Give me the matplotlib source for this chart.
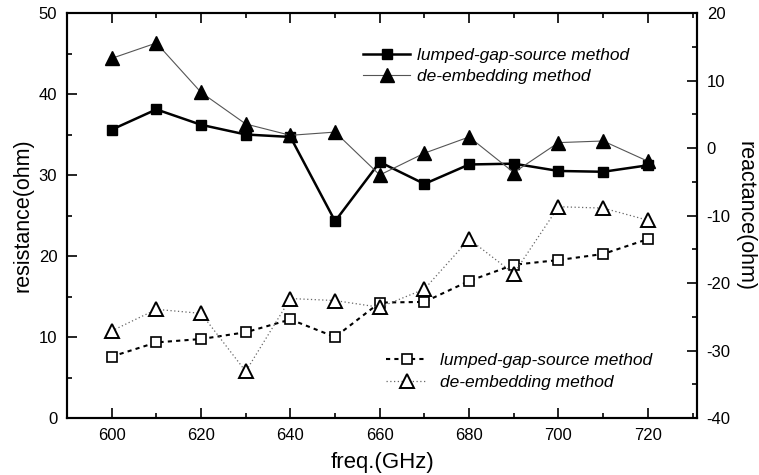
"""Resistance / reactance vs frequency, two extraction methods."""
import matplotlib
matplotlib.use('Agg')
import matplotlib.pyplot as plt
from matplotlib.ticker import MultipleLocator

plt.rcParams['font.family'] = ['Liberation Sans', 'DejaVu Sans']
plt.rcParams['axes.unicode_minus'] = False

# data
freq = [600, 610, 620, 630, 640, 650, 660, 670, 680, 690, 700, 710, 720]
res_lumped = [35.6, 38.1, 36.2, 35.0, 34.7, 24.3, 31.6, 28.9, 31.3, 31.4, 30.5, 30.4, 31.2]
res_deemb = [44.4, 46.3, 40.2, 36.3, 34.9, 35.3, 30.0, 32.7, 34.7, 30.3, 34.0, 34.2, 31.7]
react_lumped = [-30.9, -28.8, -28.3, -27.3, -25.4, -28.0, -22.9, -22.8, -19.7, -17.3, -16.6, -15.7, -13.5]
react_deemb = [-27.1, -23.9, -24.5, -33.1, -22.3, -22.6, -23.6, -20.9, -13.5, -18.6, -8.7, -8.9, -10.7]

LABEL_LUMPED = 'lumped-gap-source method'
LABEL_DEEMB = 'de-embedding method'

fig = plt.figure(figsize=(7.59, 4.75), dpi=100)
ax = fig.add_axes([0.0883, 0.12, 0.83, 0.8526])
ax2 = ax.twinx()

# resistance (left axis, filled markers)
ax.plot(freq, res_lumped, '-', color='black', lw=1.8, marker='s', ms=6.5,
        mfc='black', mec='black', label=LABEL_LUMPED)
ax.plot(freq, res_deemb, '-', color='#555555', lw=0.8, marker='^', ms=10,
        mfc='black', mec='black', label=LABEL_DEEMB)

# reactance (right axis, open markers)
ax2.plot(freq, react_lumped, color='black', lw=1.5, ls=(0, (2, 2)), marker='s',
         ms=7, mfc='white', mec='black', mew=1.2, label=LABEL_LUMPED)
ax2.plot(freq, react_deemb, color='#666666', lw=0.9, ls=(0, (1, 2)), marker='^',
         ms=10, mfc='white', mec='black', mew=1.4, label=LABEL_DEEMB)

ax.set_xlim(590, 731)
ax.set_ylim(0, 50)
ax2.set_ylim(-40, 20)

ax.xaxis.set_major_locator(MultipleLocator(20))
ax.xaxis.set_minor_locator(MultipleLocator(10))
ax.yaxis.set_major_locator(MultipleLocator(10))
ax.yaxis.set_minor_locator(MultipleLocator(5))
ax2.yaxis.set_major_locator(MultipleLocator(10))
ax2.yaxis.set_minor_locator(MultipleLocator(5))

for a in (ax, ax2):
    for sp in a.spines.values():
        sp.set_linewidth(1.5)
ax.tick_params(which='both', direction='in', top=True, right=False, width=1.2,
               labelsize=12, pad=7)
ax.tick_params(which='major', length=7)
ax.tick_params(which='minor', length=3.5)
ax2.tick_params(which='both', direction='in', width=1.2, labelsize=12, pad=7)
ax2.tick_params(which='major', length=7)
ax2.tick_params(which='minor', length=3.5)

ax.set_xlabel('freq.(GHz)', fontsize=16, labelpad=7)
ax.set_ylabel('resistance(ohm)', fontsize=15.5, labelpad=4)
ax2.set_ylabel('reactance(ohm)', fontsize=15.5, rotation=-90, labelpad=18)

leg_kw = dict(frameon=False, labelspacing=0.35, borderpad=0, borderaxespad=0,
              numpoints=1, prop={'style': 'italic', 'size': 12.5})
ax.legend(loc='center left', bbox_to_anchor=(0.47, 0.869),
          handlelength=2.7, handletextpad=0.4, **leg_kw)
ax2.legend(loc='center left', bbox_to_anchor=(0.506, 0.115),
           handlelength=2.4, handletextpad=0.75, **leg_kw)

fig.savefig('out.png', dpi=100)
